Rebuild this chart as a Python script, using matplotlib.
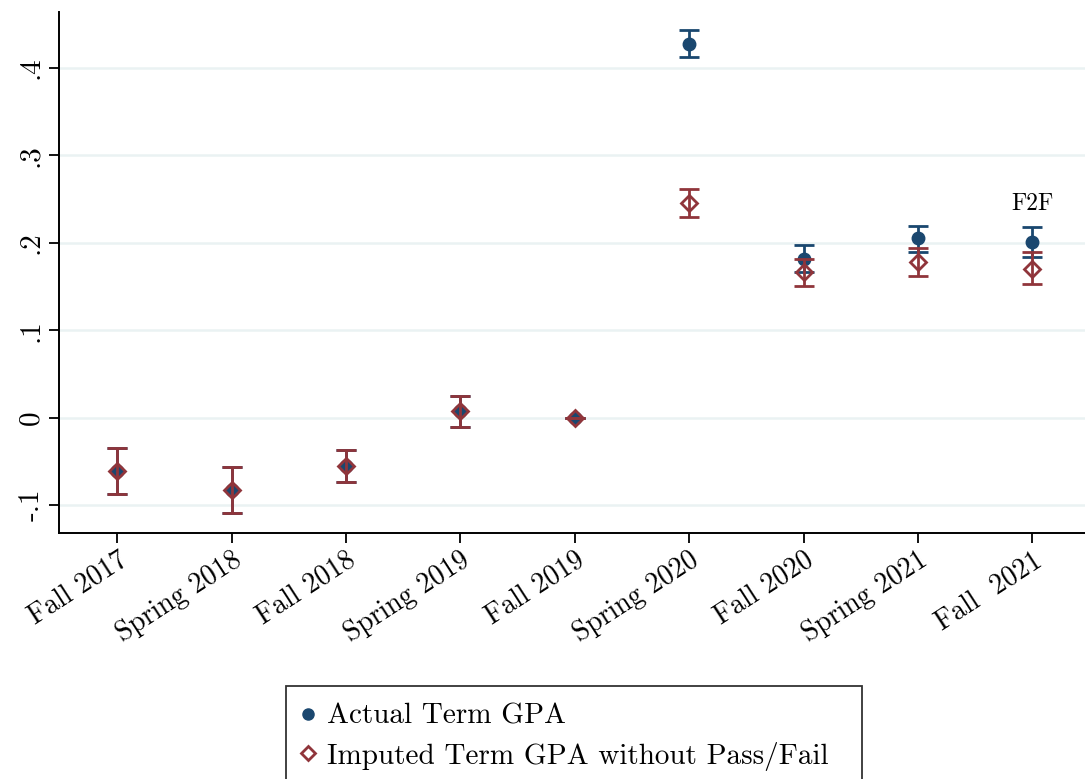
import numpy as np
import matplotlib.pyplot as plt

terms = ['Fall 2017', 'Spring 2018', 'Fall 2018', 'Spring 2019', 'Fall 2019',
         'Spring 2020', 'Fall 2020', 'Spring 2021', 'Fall  2021']

# point estimates and 95% CI bounds
actual = [-0.061, -0.083, -0.055, 0.008, 0.0, 0.427, 0.182, 0.205, 0.201]
actual_lo = [-0.087, -0.109, -0.074, -0.011, 0.0, 0.413, 0.167, 0.189, 0.184]
actual_hi = [-0.035, -0.057, -0.037, 0.025, 0.0, 0.443, 0.197, 0.219, 0.218]

imputed = [-0.061, -0.083, -0.055, 0.008, 0.0, 0.245, 0.167, 0.178, 0.170]
imputed_lo = [-0.087, -0.109, -0.074, -0.011, 0.0, 0.229, 0.150, 0.162, 0.153]
imputed_hi = [-0.035, -0.057, -0.037, 0.025, 0.0, 0.262, 0.182, 0.194, 0.190]

yticks = [-0.1, 0, 0.1, 0.2, 0.3, 0.4]
ytick_labels = ['-.1', '0', '.1', '.2', '.3', '.4']

navy = '#1a476f'
maroon = '#90353b'

plt.rcParams['font.family'] = ['cmr10', 'DejaVu Serif']

fig = plt.figure(figsize=(10.85, 7.79), dpi=100)
ax = fig.add_axes([0.0544, 0.3158, 0.9456, 0.6688])

x = np.arange(1, len(terms) + 1)

a = np.array(actual)
err_a = [a - np.array(actual_lo), np.array(actual_hi) - a]
ax.errorbar(x, a, yerr=err_a, fmt='o', color=navy, ms=9, elinewidth=2,
            capsize=7, capthick=2, zorder=3, label='Actual Term GPA')

b = np.array(imputed)
err_b = [b - np.array(imputed_lo), np.array(imputed_hi) - b]
ax.errorbar(x, b, yerr=err_b, fmt='D', color=maroon, mfc='none', mec=maroon,
            ms=8.5, mew=2, elinewidth=2, capsize=7, capthick=2, zorder=4,
            label='Imputed Term GPA without Pass/Fail')

ax.text(x[-1], 0.238, 'F2F', ha='center', va='baseline', fontsize=17)

ax.set_xlim(0.49, 9.46)
ax.set_ylim(-0.132, 0.464)
ax.set_xticks(x)
ax.set_xticklabels(terms, rotation=33, ha='right', va='top', rotation_mode='anchor', fontsize=20)
ax.set_yticks(yticks)
ax.set_yticklabels(ytick_labels, rotation=90, va='center', fontsize=21)
ax.tick_params(axis='both', length=7, width=1.3, color='black')
ax.tick_params(axis='x', pad=3)
ax.grid(axis='y', color='#eaf2f3', lw=1.8)
ax.set_axisbelow(True)
for s in ['top', 'right']:
    ax.spines[s].set_visible(False)
for s in ['left', 'bottom']:
    ax.spines[s].set_linewidth(1.4)

handles, labels = ax.get_legend_handles_labels()
h_a = plt.Line2D([], [], ls='none', marker='o', color=navy, ms=8)
h_b = plt.Line2D([], [], ls='none', marker='D', mfc='none', mec=maroon, mew=2, ms=7)
leg = fig.legend([h_a, h_b], labels, loc='upper left',
                 bbox_to_anchor=(286 / 1085, 1 - 686 / 779, 576 / 1085, 0), mode='expand',
                 fontsize=21, frameon=True, fancybox=False, edgecolor='black',
                 handlelength=0.3, handletextpad=0.5, borderpad=0.6, labelspacing=0.4,
                 borderaxespad=0)
leg.get_frame().set_linewidth(1.3)

fig.savefig('out.png', dpi=100)
